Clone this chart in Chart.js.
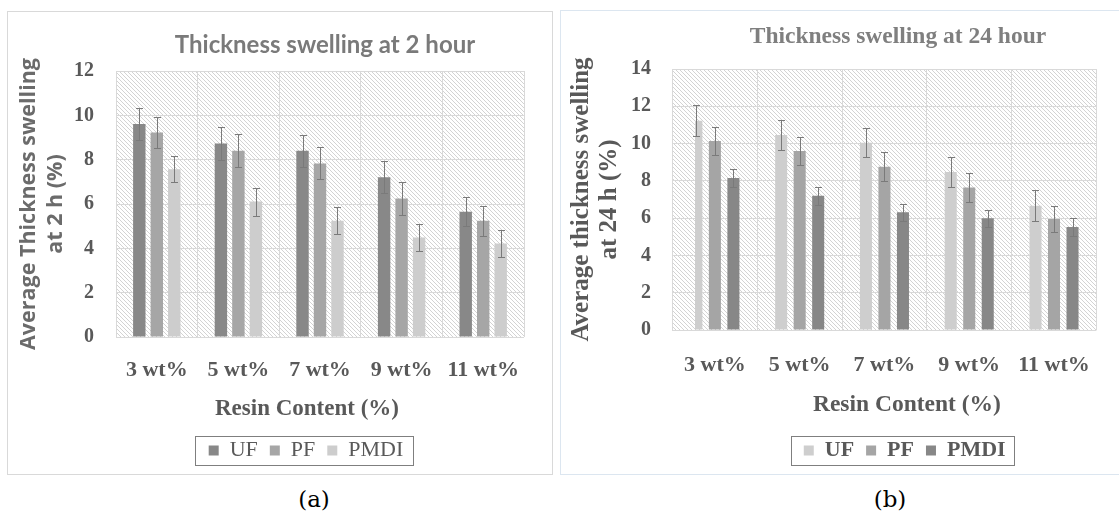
<!DOCTYPE html>
<html>
<head>
<meta charset="utf-8">
<script src="https://cdn.jsdelivr.net/npm/chart.js@4.4.1/dist/chart.umd.min.js"></script>
<style>
  html, body { margin:0; padding:0; background:#fff; width:1119px; height:515px; overflow:hidden; position:relative; }
  .panel { position:absolute; box-sizing:border-box; background:#fff; }
  #pa { left:7px; top:11px; width:546px; height:464px; border:1px solid #d9d9d9; }
  #pb { left:560px; top:10px; width:562px; height:465px; border:1px solid #dce6f0; }
  .panel canvas { display:block; }
  .cap { position:absolute; top:486px; font:23px "DejaVu Serif", serif; color:#000; transform:translateX(-50%); white-space:nowrap; }
</style>
</head>
<body>
<div class="panel" id="pa"><canvas id="c2h" width="544" height="462"></canvas></div>
<div class="panel" id="pb"><canvas id="c24h" width="560" height="463"></canvas></div>
<div class="cap" style="left:314px">(a)</div>
<div class="cap" style="left:890px">(b)</div>
<script>
// ---------- data ----------
const categories = ['3 wt%', '5 wt%', '7 wt%', '9 wt%', '11 wt%'];
const seriesNames = ['UF', 'PF', 'PMDI'];

// Thickness swelling at 2 hour
const uf2h   = [9.61, 8.73, 8.40, 7.21, 5.65];
const pf2h   = [9.22, 8.40, 7.83, 6.25, 5.24];
const pmdi2h = [7.57, 6.11, 5.24, 4.49, 4.22];
const uf2hErr   = [0.71, 0.73, 0.72, 0.71, 0.66];
const pf2hErr   = [0.69, 0.75, 0.72, 0.74, 0.69];
const pmdi2hErr = [0.60, 0.63, 0.61, 0.59, 0.62];
const yTicks2h = [0, 2, 4, 6, 8, 10, 12];

// Thickness swelling at 24 hour
const uf24h   = [11.23, 10.46, 10.05, 8.47, 6.67];
const pf24h   = [10.14, 9.60, 8.76, 7.65, 5.95];
const pmdi24h = [8.15, 7.20, 6.31, 5.99, 5.52];
const uf24hErr   = [0.82, 0.82, 0.78, 0.79, 0.82];
const pf24hErr   = [0.76, 0.77, 0.77, 0.77, 0.72];
const pmdi24hErr = [0.47, 0.47, 0.45, 0.46, 0.50];
const yTicks24h = [0, 2, 4, 6, 8, 10, 12, 14];

// ---------- plugins ----------
function makeHatch(ctx) {
  const c = document.createElement('canvas');
  c.width = 4; c.height = 4;
  const g = c.getContext('2d');
  g.fillStyle = '#ffffff'; g.fillRect(0, 0, 4, 4);
  g.fillStyle = '#d3d3d3';
  for (let i = 0; i < 4; i++) g.fillRect(i, i, 1, 1);
  return ctx.createPattern(c, 'repeat');
}
const hatchPlugin = {
  id: 'hatch',
  beforeDraw(chart) {
    const {ctx, chartArea: a} = chart;
    ctx.save();
    ctx.fillStyle = makeHatch(ctx);
    ctx.fillRect(a.left, a.top, a.right - a.left, a.bottom - a.top);
    ctx.restore();
  }
};
const errorBarPlugin = {
  id: 'errorBars',
  afterDatasetsDraw(chart, args, opts) {
    const {ctx} = chart;
    const ys = chart.scales.y;
    chart.data.datasets.forEach((ds, i) => {
      const meta = chart.getDatasetMeta(i);
      if (meta.hidden) return;
      meta.data.forEach((bar, j) => {
        const v = ds.data[j], e = ds.errors[j];
        const x = Math.round(bar.x) + 0.5;
        const t = Math.round(ys.getPixelForValue(v + e)) + 0.5;
        const b = Math.round(ys.getPixelForValue(v - e)) + 0.5;
        const c = opts.cap;
        ctx.save();
        ctx.strokeStyle = opts.color;
        ctx.lineWidth = 1;
        ctx.beginPath();
        ctx.moveTo(x, t); ctx.lineTo(x, b);
        ctx.moveTo(x - c, t); ctx.lineTo(x + c, t);
        ctx.moveTo(x - c, b); ctx.lineTo(x + c, b);
        ctx.stroke();
        ctx.restore();
      });
    });
  }
};
const placePlugin = {
  id: 'place',
  afterLayout(chart, args, opts) {
    const lg = chart.legend;
    if (lg && opts.legendDx) { lg.left += opts.legendDx; lg.right += opts.legendDx; }
    const tb = chart.titleBlock;
    if (tb && opts.titleDx) { tb.left += opts.titleDx; tb.right += opts.titleDx; }
    const xs = chart.scales.x;
    if (xs && opts.xTitleDx) { xs.left += opts.xTitleDx; xs.right += opts.xTitleDx; }
  },
  afterDraw(chart, args, opts) {
    const hb = chart.legend && chart.legend.legendHitBoxes;
    if (!hb || !hb.length) return;
    let l = Infinity, r = -Infinity;
    hb.forEach(h => { l = Math.min(l, h.left); r = Math.max(r, h.left + h.width); });
    const cy = hb[0].top + hb[0].height / 2;
    const {ctx} = chart;
    ctx.save();
    ctx.strokeStyle = '#7f7f7f';
    ctx.lineWidth = 1;
    ctx.strokeRect(Math.round(l - opts.padL) + 0.5, Math.round(cy - 14.5) + 0.5,
                   Math.round(r - l + opts.padL + opts.padR), 29);
    ctx.restore();
  }
};

function makeChart(id, cfg) {
  const sets = [
    {label: seriesNames[0], data: cfg.values[0], errors: cfg.errors[0], backgroundColor: cfg.colors[0]},
    {label: seriesNames[1], data: cfg.values[1], errors: cfg.errors[1], backgroundColor: cfg.colors[1]},
    {label: seriesNames[2], data: cfg.values[2], errors: cfg.errors[2], backgroundColor: cfg.colors[2]}
  ].map(d => Object.assign(d, {borderWidth: 0, categoryPercentage: cfg.catPct, barPercentage: cfg.barPct}));

  return new Chart(document.getElementById(id), {
    type: 'bar',
    data: {labels: categories, datasets: sets},
    plugins: [hatchPlugin, errorBarPlugin, placePlugin],
    options: {
      responsive: false,
      animation: false,
      devicePixelRatio: 1,
      layout: {padding: {left: 0, right: cfg.padRight, top: 0, bottom: 2.5}},
      plugins: {
        tooltip: {enabled: false},
        title: {
          display: true, text: cfg.title, fullSize: false, color: cfg.titleColor,
          font: cfg.titleFont, padding: cfg.titlePad
        },
        legend: {
          position: 'bottom',
          labels: {
            color: '#595959', font: cfg.legendFont,
            boxWidth: 10, boxHeight: 10, padding: 12
          }
        },
        errorBars: {color: '#7a7a7a', cap: 3.5},
        place: cfg.place
      },
      scales: {
        x: {
          grid: {color: '#d9d9d9', drawTicks: false, offset: true},
          border: {display: false},
          ticks: {padding: cfg.xTickPad, color: '#595959',
                  font: {family: 'Liberation Serif', size: 22, weight: 'bold'}},
          title: {display: true, text: 'Resin Content (%)', color: '#595959',
                  font: cfg.xTitleFont,
                  padding: {top: 0, bottom: cfg.xTitlePadB}},
          afterFit(s) { s.height = cfg.xHeight; }
        },
        y: {
          min: 0, max: cfg.yMax,
          afterBuildTicks(s) { s.ticks = cfg.yTicks.map(v => ({value: v})); },
          grid: {color: '#d9d9d9', drawTicks: false},
          border: {color: '#d9d9d9'},
          ticks: {padding: cfg.yTickPad, color: '#595959',
                  font: {family: 'Liberation Serif', size: 20, weight: 'bold'}},
          title: {display: true, text: cfg.yTitle, color: cfg.yTitleColor,
                  font: cfg.yTitleFont, padding: {top: cfg.yTitlePadT, bottom: 0}},
          afterFit(s) { s.width = cfg.yWidth; }
        }
      }
    }
  });
}

makeChart('c2h', {
  values: [uf2h, pf2h, pmdi2h],
  errors: [uf2hErr, pf2hErr, pmdi2hErr],
  colors: ['#888888', '#a6a6a6', '#cdcdcd'],
  catPct: 0.643, barPct: 0.71,
  padRight: 28,
  title: 'Thickness swelling at 2 hour',
  titleColor: '#7a7a7a',
  titleFont: {family: 'Lato', size: 24, weight: 'bold', lineHeight: 1.2},
  titlePad: {top: 18.6, bottom: 11.6},
  legendFont: {family: 'Liberation Serif', size: 22, weight: 'normal'},
  place: {legendDx: 40, titleDx: 5, xTitleDx: -13, padL: 14, padR: 9},
  xTickPad: 20, xTitlePadB: 4.7, xHeight: 90.5,
  xTitleFont: {family: 'Liberation Serif', size: 23, weight: 'bold', lineHeight: 1.2},
  yMax: 12, yTicks: yTicks2h, yTickPad: 22, yWidth: 108,
  yTitle: ['Average Thickness swelling', 'at 2 h (%)'],
  yTitleColor: '#6b6b6b',
  yTitleFont: {family: 'Open Sans', size: 21.5, weight: 'bold', lineHeight: 1.256},
  yTitlePadT: 7.5
});

makeChart('c24h', {
  values: [uf24h, pf24h, pmdi24h],
  errors: [uf24hErr, pf24hErr, pmdi24hErr],
  colors: ['#cecece', '#a5a5a5', '#878787'],
  catPct: 0.655, barPct: 0.65,
  padRight: 24.6,
  title: 'Thickness swelling at 24 hour',
  titleColor: '#7f7f7f',
  titleFont: {family: 'Liberation Serif', size: 23.5, weight: 'bold', lineHeight: 1.2},
  titlePad: {top: 11.9, bottom: 17.9},
  legendFont: {family: 'Liberation Serif', size: 22, weight: 'bold'},
  place: {legendDx: 76, titleDx: 13.5, xTitleDx: 22.5, padL: 13, padR: 8},
  xTickPad: 21.8, xTitlePadB: 8.4, xHeight: 97.5,
  xTitleFont: {family: 'Liberation Serif', size: 23.5, weight: 'bold', lineHeight: 1.2},
  yMax: 14, yTicks: yTicks24h, yTickPad: 21.5, yWidth: 111.5,
  yTitle: ['Average thickness swelling', 'at 24 h (%)'],
  yTitleColor: '#595959',
  yTitleFont: {family: 'Liberation Serif', size: 25, weight: 'bold', lineHeight: 1.12},
  yTitlePadT: 7
});
</script>
</body>
</html>
